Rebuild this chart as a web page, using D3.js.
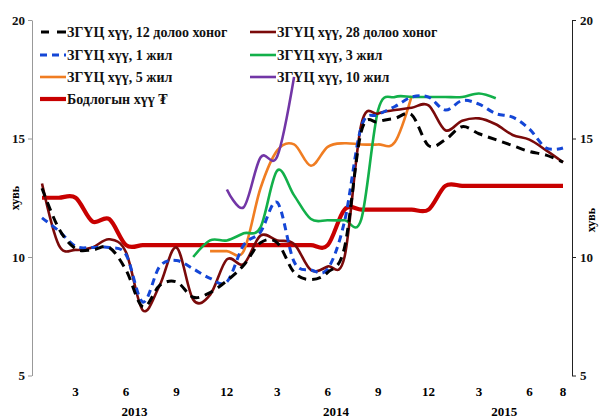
<!DOCTYPE html>
<html><head><meta charset="utf-8">
<script src="https://cdn.jsdelivr.net/npm/d3@7"></script>
<style>body{margin:0;background:#fff}svg{display:block}</style>
</head><body>
<svg id="c" width="603" height="419"></svg>
<script>
const months = ["2013-1","2013-2","2013-3","2013-4","2013-5","2013-6","2013-7","2013-8","2013-9","2013-10","2013-11","2013-12",
"2014-1","2014-2","2014-3","2014-4","2014-5","2014-6","2014-7","2014-8","2014-9","2014-10","2014-11","2014-12",
"2015-1","2015-2","2015-3","2015-4","2015-5","2015-6","2015-7","2015-8"];
const tickMonths = ["2013-3","2013-6","2013-9","2013-12","2014-3","2014-6","2014-9","2014-12","2015-3","2015-6","2015-8"];
const years = [{label:"2013", from:"2013-1", to:"2013-12"},{label:"2014", from:"2014-1", to:"2014-12"},{label:"2015", from:"2015-1", to:"2015-8"}];
const yTicks = [5,10,15,20];

const w12 = [12.9,11.2,10.35,10.3,10.4,9.45,7.9,8.8,8.95,8.3,8.5,9.0,9.65,10.6,10.6,9.35,9.05,9.35,10.4,15.3,15.7,15.85,16.0,14.7,14.95,15.5,15.2,14.95,14.7,14.45,14.3,14.0];
const w28 = [13.1,10.5,10.3,10.4,10.75,10.2,7.75,8.8,10.4,8.2,8.4,9.9,9.7,10.9,10.7,10.55,9.45,9.6,10.0,15.6,16.05,16.2,16.3,16.4,15.35,15.75,15.85,15.6,15.15,14.95,14.5,14.0];
const y1 = [11.65,11.1,10.45,10.4,10.4,10.1,8.1,9.6,9.85,9.5,9.1,8.95,10.5,11.05,12.3,9.8,9.45,9.5,11.5,15.5,16.0,16.35,16.75,16.75,16.2,16.6,16.45,16.05,15.9,15.4,14.6,14.6];
const y3 = [null,null,null,null,null,null,null,null,null,10.0,10.7,10.7,11.0,11.25,13.65,12.6,11.6,11.55,11.55,11.6,16.2,16.75,16.75,16.75,16.75,16.75,16.9,16.7,null,null,null,null];
const y5 = [null,null,null,null,null,null,null,null,null,null,10.25,10.25,10.25,12.9,14.5,14.75,13.85,14.65,14.8,14.75,14.75,14.85,16.8,null,null,null,null,null,null,null,null,null];
const y10 = [null,null,null,null,null,null,null,null,null,null,null,12.85,12.1,14.2,14.25,17.6,null,null,null,null,null,null,null,null,null,null,null,null,null,null,null,null];
const policy = [12.5,12.5,12.5,11.5,11.6,10.5,10.5,10.5,10.5,10.5,10.5,10.5,10.5,10.5,10.5,10.5,10.5,10.5,12,12,12,12,12,12,13,13,13,13,13,13,13,13];

const series = [
  {name:"ЗГҮЦ хүү, 12 долоо хоног", values:w12, color:"#000000", width:3, dash:"9,6"},
  {name:"ЗГҮЦ хүү, 28 долоо хоног", values:w28, color:"#7a0a0a", width:2.6, dash:null},
  {name:"ЗГҮЦ хүү, 1 жил", values:y1, color:"#1446d6", width:3, dash:"7,5"},
  {name:"ЗГҮЦ хүү, 3 жил", values:y3, color:"#12b04a", width:2.6, dash:null},
  {name:"ЗГҮЦ хүү, 5 жил", values:y5, color:"#f07d22", width:2.6, dash:null},
  {name:"ЗГҮЦ хүү, 10 жил", values:y10, color:"#7236a6", width:2.6, dash:null},
  {name:"Бодлогын хүү ₮", values:policy, color:"#c80000", width:4.2, dash:null}
];

const svg = d3.select("#c");
const font = "'Liberation Serif','Times New Roman',serif";
const x = d3.scalePoint().domain(months).range([42,563]);
const y = d3.scaleLinear().domain([5,20]).range([375.5,20]);

// axes
const left = svg.append("g").attr("transform","translate(32,0)")
  .call(d3.axisLeft(y).tickValues(yTicks).tickSize(4).tickSizeOuter(0).tickPadding(3));
left.select(".domain").attr("stroke","#999");
left.selectAll(".tick line").attr("stroke","#999");
const right = svg.append("g").attr("transform","translate(572,0)")
  .call(d3.axisRight(y).tickValues(yTicks).tickSize(4).tickSizeOuter(0).tickPadding(4));
right.select(".domain").attr("stroke","#222");
right.selectAll(".tick line").attr("stroke","#222");
svg.selectAll(".tick text").attr("font-family",font).attr("font-weight","bold").attr("font-size",13).attr("fill","#111");

svg.append("text").attr("transform","translate(19,198) rotate(-90)").attr("text-anchor","middle")
  .attr("font-family",font).attr("font-weight","bold").attr("font-size",12).text("хувь");
svg.append("text").attr("transform","translate(595,220) rotate(-90)").attr("text-anchor","middle")
  .attr("font-family",font).attr("font-weight","bold").attr("font-size",12).text("хувь");

// x labels
svg.append("g").selectAll("text").data(tickMonths).join("text")
  .attr("x",d=>x(d)).attr("y",396).attr("text-anchor","middle")
  .attr("font-family",font).attr("font-weight","bold").attr("font-size",13)
  .text(d=>d.split("-")[1]);
svg.append("g").selectAll("text").data(years).join("text")
  .attr("x",d=>(x(d.from)+x(d.to))/2).attr("y",416).attr("text-anchor","middle")
  .attr("font-family",font).attr("font-weight","bold").attr("font-size",13)
  .text(d=>d.label);

// lines
const line = d3.line().defined(d=>d.v!=null).x(d=>x(d.m)).y(d=>y(d.v)).curve(d3.curveCardinal.tension(0));
const order = [6,4,5,3,1,2,0];
order.forEach(i=>{
  const s = series[i];
  svg.append("path").datum(months.map((m,k)=>({m, v:s.values[k]})))
    .attr("d",line).attr("fill","none").attr("stroke",s.color).attr("stroke-width",s.width)
    .attr("stroke-dasharray",s.dash).attr("stroke-linejoin","round");
});

// legend
const legPos = [[40,32],[250,32],[40,55],[250,55],[40,77],[250,77],[40,99]];
series.forEach((s,i)=>{
  const [lx,ly] = legPos[i];
  const g = svg.append("g");
  if (i===0) {
    g.append("line").attr("x1",lx+1).attr("x2",lx+9).attr("y1",ly).attr("y2",ly).attr("stroke",s.color).attr("stroke-width",s.width);
    g.append("line").attr("x1",lx+17).attr("x2",lx+26).attr("y1",ly).attr("y2",ly).attr("stroke",s.color).attr("stroke-width",s.width);
  } else {
    g.append("line").attr("x1",lx).attr("x2",lx+26).attr("y1",ly).attr("y2",ly).attr("stroke",s.color)
      .attr("stroke-width",s.width).attr("stroke-dasharray",s.dash);
  }
  g.append("text").attr("x",lx+27).attr("y",ly+5).attr("font-family",font).attr("font-weight","bold")
    .attr("font-size",14).attr("fill","#111").text(s.name);
});
</script>
</body></html>
